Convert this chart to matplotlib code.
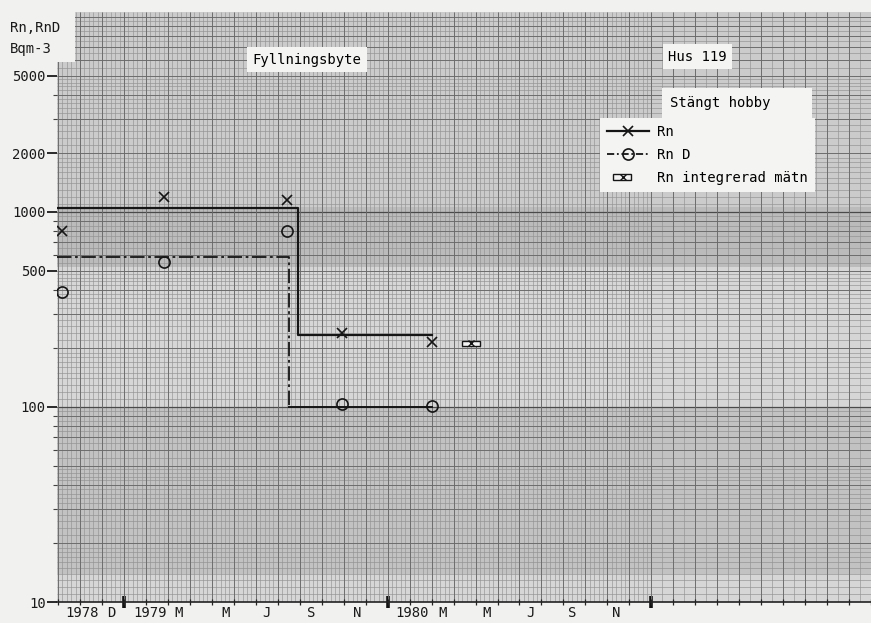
import numpy as np
import matplotlib
matplotlib.use('Agg')
import matplotlib.pyplot as plt
from matplotlib.lines import Line2D
from matplotlib.patches import Rectangle
from matplotlib.legend_handler import HandlerLine2D
from matplotlib.ticker import FixedLocator, NullFormatter

# x is months counted from 1 Jan 1979
rn_month = [-2.8, 1.8, 7.4, 9.9, 14.0]
rn_value = [800, 1200, 1150, 240, 215]
rnd_month = [-2.8, 1.8, 7.4, 9.9, 14.0]
rnd_value = [390, 555, 800, 103, 101]

# stepped mean levels before / after the filling change
rn_step_month = [-3.05, 7.9, 14.0]
rn_step_value = [1050, 235, 235]
rnd_step_month = [-3.05, 7.5, 14.0]
rnd_step_value = [590, 100, 100]

# integrated measurement
integ_start, integ_end, integ_value = 15.4, 16.2, 212

x_label_pos = [-1.9, -0.6, 1.2, 2.5, 4.6, 6.5, 8.5, 10.6, 13.1, 14.5, 16.5, 18.5, 20.4, 22.4]
x_labels = ['1978', 'D', '1979', 'M', 'M', 'J', 'S', 'N', '1980', 'M', 'M', 'J', 'S', 'N']
year_marks = [0, 12, 24]
y_ticks = [10, 100, 500, 1000, 2000, 5000]

plt.rcParams['font.family'] = ['DejaVu Sans Mono']

fig = plt.figure(figsize=(8.71, 6.23), dpi=100, facecolor='#f1f1ef')
ax = fig.add_axes([57/871, 21/623, 814/871, 590/623])
ax.set_facecolor('#d6d6d6')
ax.set_yscale('log')
ax.set_xlim(-3.05, 34.0)
ax.set_ylim(10, 10600)

# --- graph paper ---
yt = ax.get_yaxis_transform()
xt = ax.get_xaxis_transform()
fine_y, mid_y = [], []
for d in [10, 100, 1000, 10000]:
    fine_y += list(np.arange(1, 2, 0.1) * d) + list(np.arange(2, 5, 0.2) * d) + list(np.arange(5, 10, 0.5) * d)
    mid_y += list(np.arange(1, 10) * d)
ax.hlines(fine_y, 0, 1, transform=yt, color='#909090', lw=0.45, zorder=0.5)
ax.hlines(mid_y, 0, 1, transform=yt, color='#6a6a6a', lw=0.65, zorder=0.6)
ax.hlines([100, 1000], 0, 1, transform=yt, color='#4a4a4a', lw=0.9, zorder=0.6)
fine_x = list(np.arange(-3, 24, 0.2)) + list(np.arange(24, 34.1, 0.5))
ax.vlines(fine_x, 0, 1, transform=xt, color='#939393', lw=0.45, zorder=0.5)
ax.vlines(np.arange(-3, 35, 1), 0, 1, transform=xt, color='#6a6a6a', lw=0.65, zorder=0.6)
# photocopy shading bands
ax.axhspan(1060, 10600, color='black', alpha=0.05, lw=0, zorder=0.4)
ax.axhspan(520, 1060, color='black', alpha=0.12, lw=0, zorder=0.4)
ax.axhspan(14, 100, color='black', alpha=0.09, lw=0, zorder=0.4)
# uncut corner of the paper
ax.add_patch(Rectangle((0, 0.915), 0.022, 0.1, transform=ax.transAxes,
                       fc=fig.get_facecolor(), ec='none', zorder=1, clip_on=False))

# --- data ---
ax.step(rn_step_month, rn_step_value, where='post', color='#151515', lw=1.6, zorder=3)
ax.step(rnd_step_month[:2], rnd_step_value[:2], where='post', color='#151515', lw=1.3,
        dashes=(8, 2, 1.5, 2), zorder=3)
ax.plot(rnd_step_month[1:], rnd_step_value[1:], color='#151515', lw=1.4, zorder=3)
ax.plot(rn_month, rn_value, ls='none', marker='x', ms=7.5, mew=1.2, color='#151515', zorder=4)
ax.plot(rnd_month, rnd_value, ls='none', marker='o', ms=8, mew=1.2, mfc='none',
        color='#151515', zorder=4)
ax.add_patch(Rectangle((integ_start, integ_value / 1.03), integ_end - integ_start,
                       integ_value * 1.03 - integ_value / 1.03,
                       fc='#f4f4f4', ec='#151515', lw=1.0, zorder=4))
ax.plot([(integ_start + integ_end) / 2], [integ_value], marker='x', ms=4, mew=1,
        color='#151515', zorder=5)

# --- axes ---
for s in ['top', 'right', 'left']:
    ax.spines[s].set_visible(False)
ax.spines['bottom'].set_color('#222222')
ax.spines['bottom'].set_linewidth(1.2)
ax.spines['bottom'].set_zorder(2)

ax.set_xticks(x_label_pos, x_labels)
ax.xaxis.set_minor_locator(FixedLocator(np.arange(-3, 35, 1)))
ax.tick_params(axis='x', which='major', length=0, pad=3, labelsize=10, colors='#1a1a1a')
ax.tick_params(axis='x', which='minor', length=5, width=0.9, direction='inout', color='#222222')
sec = ax.secondary_xaxis('bottom')
sec.set_xticks(year_marks, ['', '', ''])
sec.tick_params(length=8, width=2.6, direction='inout', color='#111111')
sec.spines['bottom'].set_visible(False)

ax.set_yticks(y_ticks, [str(v) for v in y_ticks])
minor_y = [v * d for d in [10, 100, 1000] for v in range(2, 10) if v * d < 5000]
ax.yaxis.set_minor_locator(FixedLocator(minor_y))
ax.yaxis.set_minor_formatter(NullFormatter())
ax.tick_params(axis='y', which='major', length=7, width=1.3, pad=1, labelsize=10, colors='#1a1a1a')
ax.tick_params(axis='y', which='minor', length=3, width=0.8, color='#444444')

fig.text(10/871, 1 - 28/623, 'Rn,RnD', fontsize=10, va='center', color='#1a1a1a')
fig.text(10/871, 1 - 49/623, 'Bqm-3', fontsize=10, va='center', color='#1a1a1a')

box = dict(fc='#f4f4f2', ec='none', pad=4)
ax.text(0.307, 0.919, 'Fyllningsbyte', transform=ax.transAxes, ha='center', va='center',
        fontsize=10, bbox=box, zorder=6)
ax.text(0.751, 0.924, 'Hus 119', transform=ax.transAxes, ha='left', va='center',
        fontsize=10, bbox=box, zorder=6)
ax.text(0.753, 0.846, 'Stängt hobby    ', transform=ax.transAxes, ha='left', va='center',
        fontsize=10, bbox=dict(fc='#f4f4f2', ec='none', pad=6), zorder=6)


class EndMarkerHandler(HandlerLine2D):
    def get_xdata(self, legend, xdescent, ydescent, width, height, fontsize):
        return [-xdescent, -xdescent + width], [-xdescent + width]


class IntegHandler:
    def legend_artist(self, legend, orig_handle, fontsize, handlebox):
        x0, y0 = -handlebox.xdescent, -handlebox.ydescent
        w, h = handlebox.width, handlebox.height
        tr = handlebox.get_transform()
        rect = Rectangle((x0 + 0.15 * w, y0 + 0.2 * h), 0.42 * w, 0.6 * h,
                         fc='#f4f4f4', ec='#151515', lw=1.0, transform=tr)
        mk = Line2D([x0 + 0.38 * w], [y0 + 0.5 * h], marker='x', ms=5, mew=1,
                    color='#151515', transform=tr)
        handlebox.add_artist(rect)
        handlebox.add_artist(mk)
        return rect


h_rn = Line2D([], [], color='#151515', lw=1.6, marker='x', ms=7.5, mew=1.2)
h_rnd = Line2D([], [], color='#151515', lw=1.3, dashes=(4, 1.5, 1, 1.5), marker='o',
               ms=8, mew=1.2, mfc='none')
h_int = Rectangle((0, 0), 1, 1)
leg = ax.legend([h_rn, h_rnd, h_int], ['Rn', 'Rn D', 'Rn integrerad mätn'],
                handler_map={Line2D: EndMarkerHandler(), Rectangle: IntegHandler()},
                loc='upper right', bbox_to_anchor=(0.931, 0.82), fontsize=10,
                handlelength=3.0, handletextpad=0.6, labelspacing=0.65,
                borderpad=0.5, borderaxespad=0, fancybox=False, framealpha=1,
                facecolor='#f4f4f2', edgecolor='none')
leg.set_zorder(6)

fig.savefig('out.png', dpi=100, facecolor=fig.get_facecolor())
